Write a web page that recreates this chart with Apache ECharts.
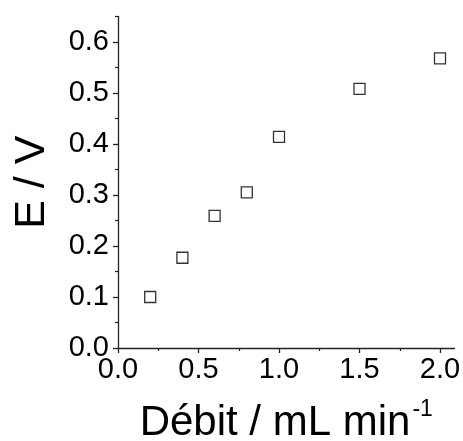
<!DOCTYPE html>
<html>
<head>
<meta charset="utf-8">
<script src="https://cdn.jsdelivr.net/npm/echarts@6/dist/echarts.min.js"></script>
<style>html,body{margin:0;padding:0;background:#fff}#c{width:463px;height:441px}</style>
</head>
<body>
<div id="c"></div>
<script>
var flowRates = [0.2, 0.4, 0.6, 0.8, 1.0, 1.5, 2.0];
var potentials = [0.100, 0.177, 0.259, 0.305, 0.414, 0.508, 0.568];
var xMajorTicks = [0, 0.5, 1.0, 1.5, 2.0];
var xMinorTicks = [0.25, 0.75, 1.25, 1.75];
var yMajorTicks = [0, 0.1, 0.2, 0.3, 0.4, 0.5, 0.6];
var yMinorTicks = [0.05, 0.15, 0.25, 0.35, 0.45, 0.55, 0.65];
var xTitle = 'Débit / mL min';
var xTitleSup = '-1';
var yTitle = 'E / V';

var points = flowRates.map(function (x, i) { return [x, potentials[i]]; });
var FONT = '"Liberation Sans", Arial, sans-serif';
var axisColor = '#222';

var chart = echarts.init(document.getElementById('c'), null, {renderer: 'canvas'});
chart.setOption({
  animation: false,
  backgroundColor: '#fff',
  grid: {left: 118, right: 8.5, top: 16.5, bottom: 93, containLabel: false, outerBoundsMode: 'none'},
  xAxis: [{
    type: 'value', min: 0, max: 2.09,
    axisLine: {show: true, onZero: false, lineStyle: {color: axisColor, width: 1.3}},
    axisTick: {show: true, inside: false, length: 5, customValues: xMajorTicks, lineStyle: {color: axisColor, width: 1.3}},
    axisLabel: {show: true, customValues: xMajorTicks, margin: 7, fontSize: 29, fontFamily: FONT, color: '#000',
      formatter: function (v) { return v.toFixed(1); }},
    splitLine: {show: false},
    name: '{m|' + xTitle + '}{s|' + xTitleSup + '}',
    nameLocation: 'middle', nameGap: 50,
    nameTextStyle: {rich: {
      m: {fontSize: 42, fontFamily: FONT, color: '#000', lineHeight: 46, verticalAlign: 'bottom'},
      s: {fontSize: 23, fontFamily: FONT, color: '#000', lineHeight: 46, verticalAlign: 'top', padding: [0, 0, 0, 2]}
    }}
  }, {
    type: 'value', min: 0, max: 2.09, position: 'bottom',
    axisLine: {show: false},
    axisTick: {show: true, inside: false, length: 3, customValues: xMinorTicks, lineStyle: {color: axisColor, width: 1.2}},
    axisLabel: {show: false}, splitLine: {show: false}
  }],
  yAxis: [{
    type: 'value', min: 0, max: 0.65,
    axisLine: {show: true, onZero: false, lineStyle: {color: axisColor, width: 1.3}},
    axisTick: {show: true, inside: false, length: 5, customValues: yMajorTicks, lineStyle: {color: axisColor, width: 1.3}},
    axisLabel: {show: true, customValues: yMajorTicks, margin: 9, fontSize: 29, fontFamily: FONT, color: '#000',
      formatter: function (v) { return v.toFixed(1); }},
    splitLine: {show: false},
    name: yTitle, nameLocation: 'middle', nameGap: 64, nameRotate: 90,
    nameTextStyle: {fontSize: 43, fontFamily: FONT, color: '#000'}
  }, {
    type: 'value', min: 0, max: 0.65, position: 'left',
    axisLine: {show: false},
    axisTick: {show: true, inside: false, length: 3, customValues: yMinorTicks, lineStyle: {color: axisColor, width: 1.2}},
    axisLabel: {show: false}, splitLine: {show: false}
  }],
  series: [{
    type: 'scatter',
    xAxisIndex: 0, yAxisIndex: 0,
    data: points,
    symbol: 'rect',
    symbolSize: 11,
    itemStyle: {color: 'rgba(255,255,255,0)', borderColor: '#000', borderWidth: 1.3},
    emphasis: {disabled: true}
  }]
});
</script>
</body>
</html>
